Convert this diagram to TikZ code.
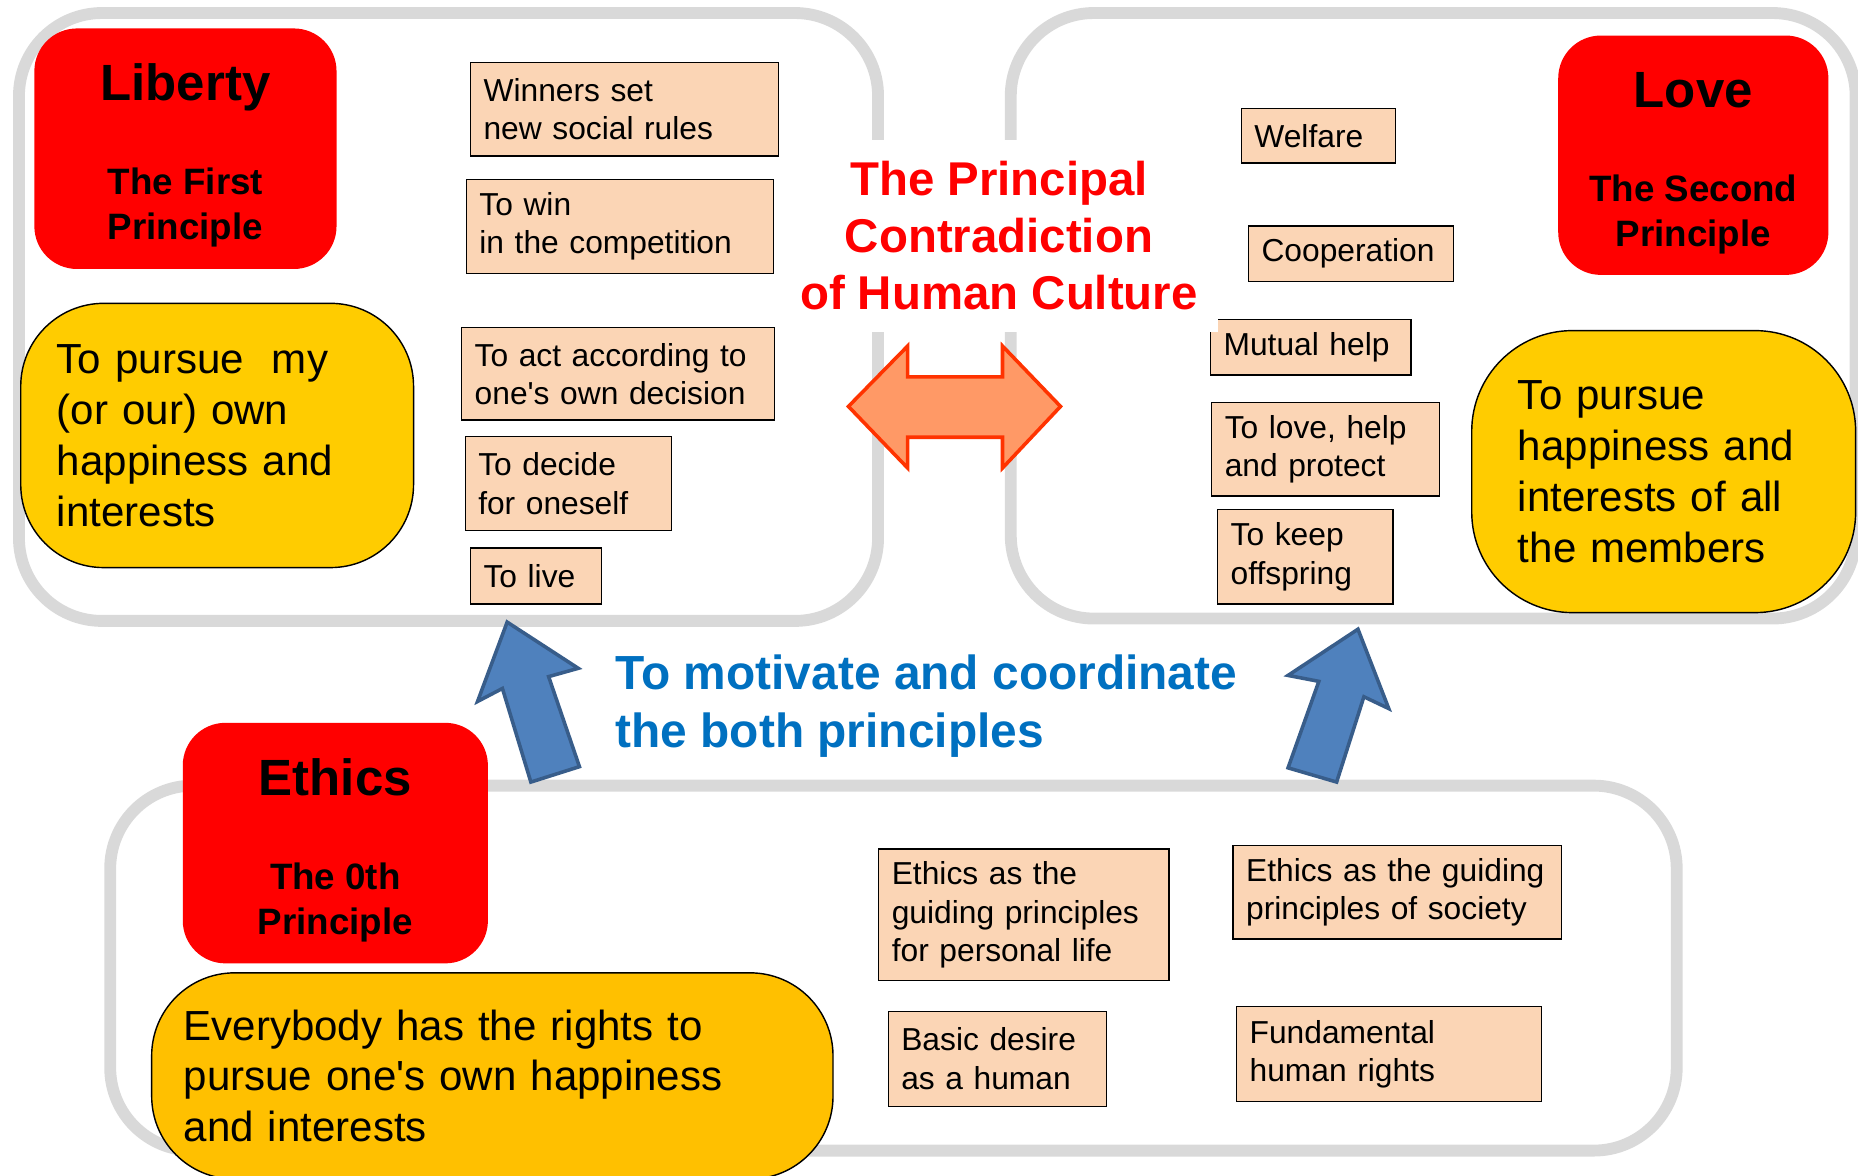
\documentclass[tikz,border=0pt]{standalone}
\usepackage{fontspec}
\setmainfont{Liberation Sans}

\definecolor{framegray}{HTML}{D9D9D9}
\definecolor{peach}{HTML}{FBD5B5}
\definecolor{gold}{HTML}{FFCC00}
\definecolor{amber}{HTML}{FFC000}
\definecolor{motblue}{HTML}{0070C0}
\definecolor{salmon}{HTML}{FF9966}
\definecolor{flame}{HTML}{FF3300}
\definecolor{steel}{HTML}{4F81BD}
\definecolor{steeldark}{HTML}{385D8A}

\tikzset{
	container/.style={
		rectangle,
		rounded corners=70pt,
		draw=framegray,
		line width=10pt,
		inner sep=0pt},
	principle/.style={
		rectangle,
		rounded corners=36pt,
		fill=red,
		inner sep=0pt},
	heading/.style={
		font=\fontsize{43}{50}\selectfont\bfseries,
		anchor=base},
	subheading/.style={
		font=\fontsize{31}{38}\selectfont\bfseries,
		align=center},
	goal/.style={
		rectangle,
		draw=black,
		line width=1.2pt,
		font=\fontsize{35.5}{43}\selectfont,
		align=left},
	textbox/.style={
		rectangle,
		draw=black,
		line width=1.2pt,
		fill=peach,
		font=\fontsize{26.8}{32.5}\selectfont,
		align=left,
		inner xsep=11pt,
		inner ysep=0pt,
		anchor=north west},
	doublearrow/.style={
		fill=salmon,
		draw=flame,
		line width=3pt,
		line join=miter},
	bluearrow/.style={
		fill=steel,
		draw=steeldark,
		line width=3pt,
		line join=miter}
}

\begin{document}
\begin{tikzpicture}[x=1pt, y=-1pt]
    \useasboundingbox (0,0) rectangle (1568,992);

    \node[container, minimum width=725pt, minimum height=513pt] (LC) at (378.5,267.5) {};
    \node[container, minimum width=713pt, minimum height=511pt] (RC) at (1209.5,266.5) {};
    \node[container, minimum width=1322pt, minimum height=308pt] (BC) at (754,817) {};

    \node[textbox, text width=238pt, minimum height=79pt] (WIN) at (396.5,52) {Winners set\\new social rules};
    \node[textbox, text width=237pt, minimum height=79pt] (COMP) at (393,151) {To win\\in the competition};
    \node[textbox, text width=242pt, minimum height=78pt] (ACT) at (389,276) {To act according to\\one\textquotesingle s own decision};
    \node[textbox, text width=152pt, minimum height=79pt] (DEC) at (392,368) {To decide\\for oneself};
    \node[textbox, text width=88.5pt, minimum height=47pt] (LIVE) at (396.5,462) {To live};

    \node[textbox, text width=108pt, minimum height=46pt] (WEL) at (1047,91) {Welfare};
    \node[textbox, text width=151pt, minimum height=47pt] (COOP) at (1053,190) {Cooperation};
    \node[textbox, text width=147pt, minimum height=47pt] (MUT) at (1021,269) {Mutual help};
    \node[textbox, text width=170pt, minimum height=79pt] (PROT) at (1022,339) {To love, help\\and protect};
    \node[textbox, text width=126pt, minimum height=79.5pt] (KEEP) at (1027,429.5) {To keep\\offspring};

    \node[textbox, text width=223pt, minimum height=111pt] (PERS) at (741,716) {Ethics as the\\guiding principles\\for personal life};
    \node[textbox, text width=255pt, minimum height=79pt] (SOC) at (1040,713) {Ethics as the guiding\\principles of society};
    \node[textbox, text width=162pt, minimum height=80pt] (DES) at (749,853) {Basic desire\\as a human};
    \node[textbox, text width=235.5pt, minimum height=80pt] (RIGHT) at (1043,849) {Fundamental\\human rights};

    \node[goal, fill=gold, rounded corners=70pt,
          minimum width=331.5pt, minimum height=223pt,
          inner xsep=30.5pt, text width=270.5pt
          ] (MINE) at (183.25,367.5) {To pursue~ my\\(or our) own\\happiness and\\interests};
    \node[goal, fill=gold, rounded corners=85pt,
          minimum width=324pt, minimum height=238pt,
          inner xsep=39pt, text width=246pt
          ] (ALL) at (1404,398) {To pursue\\happiness and\\interests of all\\the members};
    \node[goal, fill=amber, rounded corners=70pt,
          minimum width=575pt, minimum height=174pt,
          inner xsep=27pt, text width=521pt
          ] (EVERY) at (415.5,908) {Everybody has the rights to\\pursue one\textquotesingle s own happiness\\and interests};

    \node[principle, minimum width=255pt, minimum height=203pt] (LIB) at (156.5,125.5) {};
    \node[heading] (LIBh) at (156.5,85) {Liberty};
    \node[subheading] (LIBs) at (156.5,175) {The First\\Principle};

    \node[principle, minimum width=228pt, minimum height=202pt] (LOV) at (1429,131) {};
    \node[heading] (LOVh) at (1429,91) {Love};
    \node[subheading] (LOVs) at (1429,181) {The Second\\Principle};

    \node[principle, minimum width=257.5pt, minimum height=203pt] (ETH) at (283,711.5) {};
    \node[heading] (ETHh) at (283,671) {Ethics};
    \node[subheading] (ETHs) at (283,762) {The 0th\\Principle};

    \node[fill=white, inner sep=0pt, minimum width=370pt, minimum height=162pt,
          align=center, text=red, font=\fontsize{40}{48}\selectfont\bfseries
          ] (CONTRA) at (843,199) {The Principal\\Contradiction\\of Human Culture};

    \draw[doublearrow] (716,343) -- (766,292) -- (766,318) -- (846,318) -- (846,292)
        -- (895,343) -- (846,395) -- (846,369) -- (766,369) -- (766,395) -- cycle;

    \draw[bluearrow] (428,525) -- (488,564) -- (463,571) -- (489,647)
        -- (448,660) -- (424,581) -- (403,592) -- cycle;
    \draw[bluearrow] (1146,531) -- (1172,598) -- (1151,588) -- (1128,660)
        -- (1087,648) -- (1113,575) -- (1087,570) -- cycle;

    \node[anchor=west, align=left, text=motblue,
          font=\fontsize{40.4}{49}\selectfont\bfseries
          ] (MOTIV) at (516,596) {To motivate and coordinate\\the both principles};
\end{tikzpicture}
\end{document}
